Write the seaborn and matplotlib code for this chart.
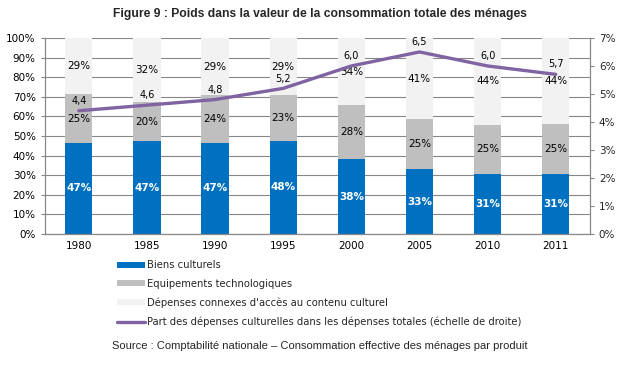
import numpy as np
import pandas as pd
import matplotlib
matplotlib.use("Agg")
import matplotlib.pyplot as plt
import seaborn as sns
from matplotlib.patches import Patch
from matplotlib.lines import Line2D

years = ["1980", "1985", "1990", "1995", "2000", "2005", "2010", "2011"]
biens = [46.6, 47.2, 46.6, 47.6, 38.0, 33.0, 30.6, 30.8]
equipements = [24.6, 20.3, 24.2, 23.2, 27.6, 25.4, 25.0, 25.2]
connexes = [28.8, 32.4, 29.2, 29.2, 34.4, 41.4, 44.4, 44.0]
part = [4.4, 4.6, 4.8, 5.2, 6.0, 6.5, 6.0, 5.7]

c_blue = "#0070C0"
c_gray = "#BFBFBF"
c_light = "#F2F2F2"
c_purple = "#8064A2"
c_axis = "#878787"

sns.set_style("white")
plt.rcParams['font.family'] = ['DejaVu Sans']

df = pd.DataFrame({"year": years, "biens": biens, "equip": equipements,
                   "connexes": connexes, "part": part})
df["mid"] = df["biens"] + df["equip"]
df["total"] = df["mid"] + df["connexes"]

fig = plt.figure(figsize=(6.39, 3.65), dpi=100)
ax = fig.add_axes([0.070, 0.359, 0.853, 0.537])

# stacked bars drawn as overlapping cumulative heights
for col, color in [("total", c_light), ("mid", c_gray), ("biens", c_blue)]:
    sns.barplot(data=df, x="year", y=col, color=color, width=0.4,
                saturation=1, linewidth=0, ax=ax, zorder=2)

ax.set_ylim(0, 100)
ax.set_xlim(-0.5, 7.5)
ax.set_yticks(np.arange(0, 101, 10))
ax.set_yticklabels([f"{v}%" for v in range(0, 101, 10)])
ax.yaxis.grid(True, color=c_axis, linewidth=0.8)
ax.set_axisbelow(True)
ax.set_xlabel("")
ax.set_ylabel("")
ax.tick_params(axis="both", labelsize=7.5, colors="black", length=3, color=c_axis)
ax.tick_params(axis="x", length=0, pad=5)
ax.set_xticks(np.arange(-0.5, 8, 1), minor=True)
ax.tick_params(axis="x", which="minor", length=4, color=c_axis)
for s in ["left", "bottom", "right"]:
    ax.spines[s].set_color(c_axis)
    ax.spines[s].set_linewidth(0.8)
ax.spines["top"].set_visible(False)

for i in range(len(years)):
    ax.text(i, biens[i] / 2, f"{biens[i]:.0f}%", ha="center", va="center",
            color="white", fontsize=7.5, fontweight="bold", zorder=5)
    ax.text(i, biens[i] + equipements[i] / 2, f"{equipements[i]:.0f}%",
            ha="center", va="center", color="black", fontsize=7.5, zorder=5)
    ax.text(i, biens[i] + equipements[i] + connexes[i] / 2, f"{connexes[i]:.0f}%",
            ha="center", va="center", color="black", fontsize=7.5, zorder=5)

ax2 = ax.twinx()
sns.lineplot(x=np.arange(len(years)), y=part, color=c_purple, linewidth=2.4,
             ax=ax2, zorder=6)
ax2.set_ylim(0, 7)
ax2.set_xlim(-0.5, 7.5)
ax2.set_yticks(np.arange(0, 8, 1))
ax2.set_yticklabels([f"{v}%" for v in range(0, 8)])
ax2.tick_params(axis="y", labelsize=7.5, length=3, color=c_axis)
for s in ["left", "bottom", "right"]:
    ax2.spines[s].set_color(c_axis)
    ax2.spines[s].set_linewidth(0.8)
ax2.spines["top"].set_visible(False)
for i, v in enumerate(part):
    ax2.annotate(f"{v:.1f}".replace(".", ","), (i, v), xytext=(0, 3.5),
                 textcoords="offset points", ha="center", va="bottom",
                 fontsize=7, color="black")

handles = [
    Patch(facecolor=c_blue, edgecolor="none"),
    Patch(facecolor=c_gray, edgecolor="none"),
    Patch(facecolor=c_light, edgecolor="none"),
    Line2D([], [], color=c_purple, linewidth=2.4),
]
labels = [
    "Biens culturels",
    "Equipements technologiques",
    "Dépenses connexes d'accès au contenu culturel",
    "Part des dépenses culturelles dans les dépenses totales (échelle de droite)",
]
leg = fig.legend(handles, labels, loc="upper left", bbox_to_anchor=(0.183, 0.287),
                 frameon=False, fontsize=7.2, handlelength=2.85, handleheight=0.5,
                 handletextpad=0.2, labelspacing=0.85, borderpad=0, borderaxespad=0)

fig.text(0.5, 0.962, "Figure 9 : Poids dans la valeur de la consommation totale des ménages",
         ha="center", va="center", fontsize=8.7, fontweight="bold",
         family=["Liberation Sans Narrow", "Liberation Sans", "DejaVu Sans"])
fig.text(0.5, 0.052, "Source : Comptabilité nationale – Consommation effective des ménages par produit",
         ha="center", va="center", fontsize=8,
         family=["Liberation Sans", "DejaVu Sans"])

fig.savefig("out.png", dpi=100)
